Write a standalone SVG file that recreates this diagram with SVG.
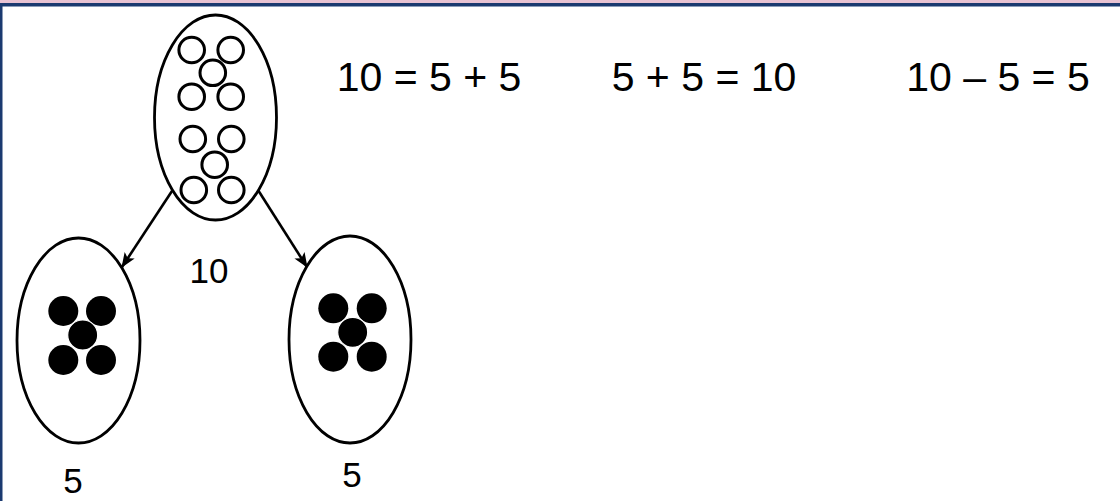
<svg xmlns="http://www.w3.org/2000/svg" width="1120" height="501" viewBox="0 0 1120 501">
<defs>
<style>
.oval{fill:#fff;stroke:#000;stroke-width:2.8}
.ring{fill:#fff;stroke:#000;stroke-width:3}
.dot{fill:#000}
.dotc{fill:#000;stroke:#fff;stroke-width:1.2}
.lbl{font-family:"Liberation Sans",Arial,sans-serif;fill:#000;text-anchor:middle}
.edge{stroke:#000;stroke-width:2.6;fill:none;marker-end:url(#ah)}
</style>
<marker id="ah" viewBox="0 0 15 12" refX="14" refY="6" markerWidth="15" markerHeight="12" markerUnits="userSpaceOnUse" orient="auto">
<path d="M0,0 L15,6 L0,12 L3.5,6 Z" fill="#000"/>
</marker>
</defs>
<rect x="0" y="0" width="1120" height="501" fill="#fff"/>
<rect x="0" y="0" width="1120" height="3" fill="#e9c3d3"/>
<rect x="0" y="3" width="1120" height="3.5" fill="#1b3a70"/>
<rect x="0" y="3" width="2.5" height="498" fill="#1b3a70"/>

<g id="connectors">
<line class="edge" x1="172" y1="191" x2="122" y2="267"/>
<line class="edge" x1="258" y1="190" x2="307" y2="267"/>
</g>

<g id="node-10">
<ellipse class="oval" cx="215.5" cy="117.5" rx="61" ry="102.5"/>
<circle class="ring" cx="191.7" cy="50" r="12.8"/>
<circle class="ring" cx="230.7" cy="50" r="12.8"/>
<circle class="ring" cx="191.7" cy="96.7" r="12.8"/>
<circle class="ring" cx="230.7" cy="96.7" r="12.8"/>
<circle class="ring" cx="212.8" cy="72.8" r="12.8"/>
<circle class="ring" cx="192.8" cy="139" r="12.8"/>
<circle class="ring" cx="231.3" cy="139" r="12.8"/>
<circle class="ring" cx="193.8" cy="190" r="12.8"/>
<circle class="ring" cx="231.3" cy="190" r="12.8"/>
<circle class="ring" cx="214.7" cy="164.7" r="12.8"/>
<text class="lbl" x="209" y="283" font-size="35">10</text>
</g>

<g id="node-5-left">
<ellipse class="oval" cx="78.5" cy="340.5" rx="61.5" ry="102.5"/>
<circle class="dot" cx="63.3" cy="311" r="15"/>
<circle class="dot" cx="101" cy="311" r="15"/>
<circle class="dot" cx="63.3" cy="360" r="15"/>
<circle class="dot" cx="101" cy="360" r="15"/>
<circle class="dotc" cx="82.7" cy="335" r="15"/>
<text class="lbl" x="73" y="493" font-size="35">5</text>
</g>

<g id="node-5-right">
<ellipse class="oval" cx="350" cy="339.5" rx="61" ry="103.5"/>
<circle class="dot" cx="333.3" cy="308.3" r="15"/>
<circle class="dot" cx="371.7" cy="308.3" r="15"/>
<circle class="dot" cx="333.3" cy="356.7" r="15"/>
<circle class="dot" cx="371.7" cy="356.7" r="15"/>
<circle class="dotc" cx="352.7" cy="332.3" r="15"/>
<text class="lbl" x="352" y="487" font-size="35">5</text>
</g>

<g id="equations">
<text class="lbl" x="429" y="91" font-size="41">10 = 5 + 5</text>
<text class="lbl" x="704" y="91" font-size="41">5 + 5 = 10</text>
<text class="lbl" x="998" y="91" font-size="41">10 – 5 = 5</text>
</g>
</svg>
